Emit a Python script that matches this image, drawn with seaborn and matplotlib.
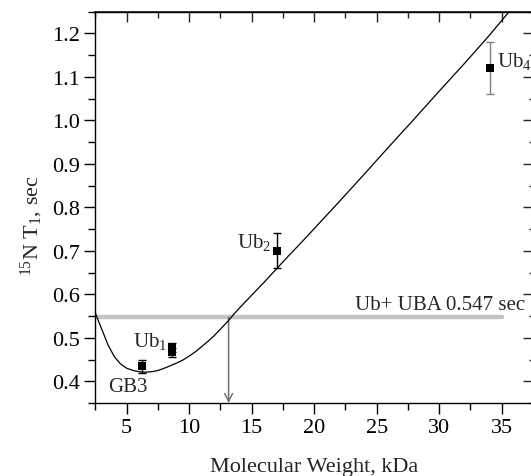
import matplotlib
matplotlib.use("Agg")
import matplotlib.pyplot as plt
import seaborn as sns
import numpy as np
import pandas as pd

# ---- data ----
curve_mw = [2.5, 3.0, 3.5, 4.0, 4.5, 5.0, 5.5, 6.0, 6.5, 7.0, 7.5, 8.0, 8.5, 9.0,
            9.5, 10.0, 10.5, 11.0, 11.5, 12.0, 12.5, 13.0, 13.5, 14.0, 15.0, 16.0,
            17.0, 18.0, 19.0, 20.0, 22.0, 24.0, 26.0, 28.0, 30.0, 32.0, 34.0, 35.6]
curve_t1 = [0.556, 0.520, 0.484, 0.457, 0.440, 0.430, 0.425, 0.422, 0.421, 0.422,
            0.425, 0.430, 0.436, 0.442, 0.449, 0.458, 0.468, 0.480, 0.492, 0.505,
            0.520, 0.535, 0.552, 0.568, 0.598, 0.628, 0.659, 0.690, 0.720, 0.751,
            0.813, 0.876, 0.940, 1.003, 1.067, 1.130, 1.195, 1.250]

point_mw = [6.25, 8.6, 8.6, 17.0, 34.1]
point_t1 = [0.435, 0.478, 0.467, 0.700, 1.120]
point_err = [0.015, 0.010, 0.010, 0.040, 0.060]

ref_t1 = 0.547
ref_start, ref_end = 2.5, 35.0
cross_mw = 13.15

x_ticks = [5, 10, 15, 20, 25, 30, 35]
y_ticks = [0.4, 0.5, 0.6, 0.7, 0.8, 0.9, 1.0, 1.1, 1.2]

sns.set_theme(style="ticks")
plt.rcParams['font.family'] = ['Liberation Serif', 'DejaVu Serif']
plt.rcParams['mathtext.fontset'] = 'custom'
plt.rcParams['mathtext.rm'] = 'Liberation Serif'
plt.rcParams['mathtext.it'] = 'Liberation Serif:italic'
plt.rcParams['mathtext.default'] = 'rm'

fig = plt.figure(figsize=(5.31, 4.77), dpi=100)
ax = fig.add_axes([0.1798, 0.1529, 0.8239, 0.8208])

FS = 15

# reference horizontal line
ref_df = pd.DataFrame({"mw": [ref_start, ref_end], "t1": [ref_t1, ref_t1]})
sns.lineplot(data=ref_df, x="mw", y="t1", ax=ax, color="#c4c4c4", linewidth=3.2,
             solid_capstyle="round", zorder=1)

# theoretical curve
curve_df = pd.DataFrame({"mw": curve_mw, "t1": curve_t1})
sns.lineplot(data=curve_df, x="mw", y="t1", ax=ax, color="black", linewidth=0.9,
             sort=False, zorder=3)

# arrow
ax.annotate("", xy=(cross_mw, 0.35), xytext=(cross_mw, ref_t1),
            arrowprops=dict(arrowstyle="->", color="#707070", lw=1.1,
                            mutation_scale=14, shrinkA=0, shrinkB=0), zorder=2)

# points with error bars
ecolors = ["black", "black", "black", "black", "#808080"]
for xm, ym, e, ec in zip(point_mw, point_t1, point_err, ecolors):
    ax.errorbar([xm], [ym], yerr=[e], fmt="none", ecolor=ec, elinewidth=1.0,
                capsize=3, capthick=1.0, zorder=4)
pts_df = pd.DataFrame({"mw": point_mw, "t1": point_t1})
sns.scatterplot(data=pts_df, x="mw", y="t1", ax=ax, marker="s", s=36,
                color="black", edgecolor="black", linewidth=0, zorder=5)

# labels
ax.text(5.1, 0.389, "GB3", fontsize=FS, ha="center", va="center")
ax.text(5.5, 0.481, "Ub$_1$", fontsize=FS, ha="left", va="baseline")
ax.text(13.8, 0.708, "Ub$_2$", fontsize=FS, ha="left", va="baseline")
ax.text(34.6, 1.125, "Ub$_4$", fontsize=FS, ha="left", va="baseline")
ax.text(36.86, 0.567, "Ub+ UBA 0.547 sec", fontsize=FS, ha="right", va="baseline")

ax.set_xlim(2.5, 37.5)
ax.set_ylim(0.35, 1.25)
ax.set_xticks(x_ticks)
ax.set_yticks(y_ticks)
ax.set_xticklabels([str(v) for v in x_ticks])
ax.set_yticklabels([f"{v:.1f}" for v in y_ticks])
ax.set_xticks(np.arange(2.5, 37.6, 2.5), minor=True)
ax.set_yticks(np.arange(0.35, 1.251, 0.05), minor=True)

ax.tick_params(axis="both", which="major", direction="out", length=8, width=1.0,
               labelsize=FS + 1, pad=3, color="black", labelcolor="black")
ax.tick_params(axis="both", which="minor", direction="out", length=5, width=1.0,
               color="black")

ax.set_xlabel("Molecular Weight, kDa", fontsize=FS + 1, labelpad=14)
ax.set_ylabel("$^{15}$N T$_1$, sec", fontsize=FS + 1)
ax.yaxis.set_label_coords(-0.115, 0.457)

for side in ["top", "right", "left", "bottom"]:
    ax.spines[side].set_visible(True)
    ax.spines[side].set_color("black")
    ax.spines[side].set_linewidth(1.0)

# top and right inward ticks
top = ax.secondary_xaxis("top")
top.set_xticks(x_ticks)
top.set_xticks(np.arange(2.5, 37.6, 2.5), minor=True)
top.tick_params(which="major", direction="in", length=7, width=1.0, labeltop=False)
top.tick_params(which="minor", direction="in", length=4, width=1.0)
top.set_xticklabels([])
right = ax.secondary_yaxis("right")
right.set_yticks(y_ticks)
right.set_yticks(np.arange(0.35, 1.251, 0.05), minor=True)
right.tick_params(which="major", direction="in", length=7, width=1.0)
right.tick_params(which="minor", direction="in", length=3, width=1.0)
right.set_yticklabels([])

fig.savefig("out.png", dpi=100)
